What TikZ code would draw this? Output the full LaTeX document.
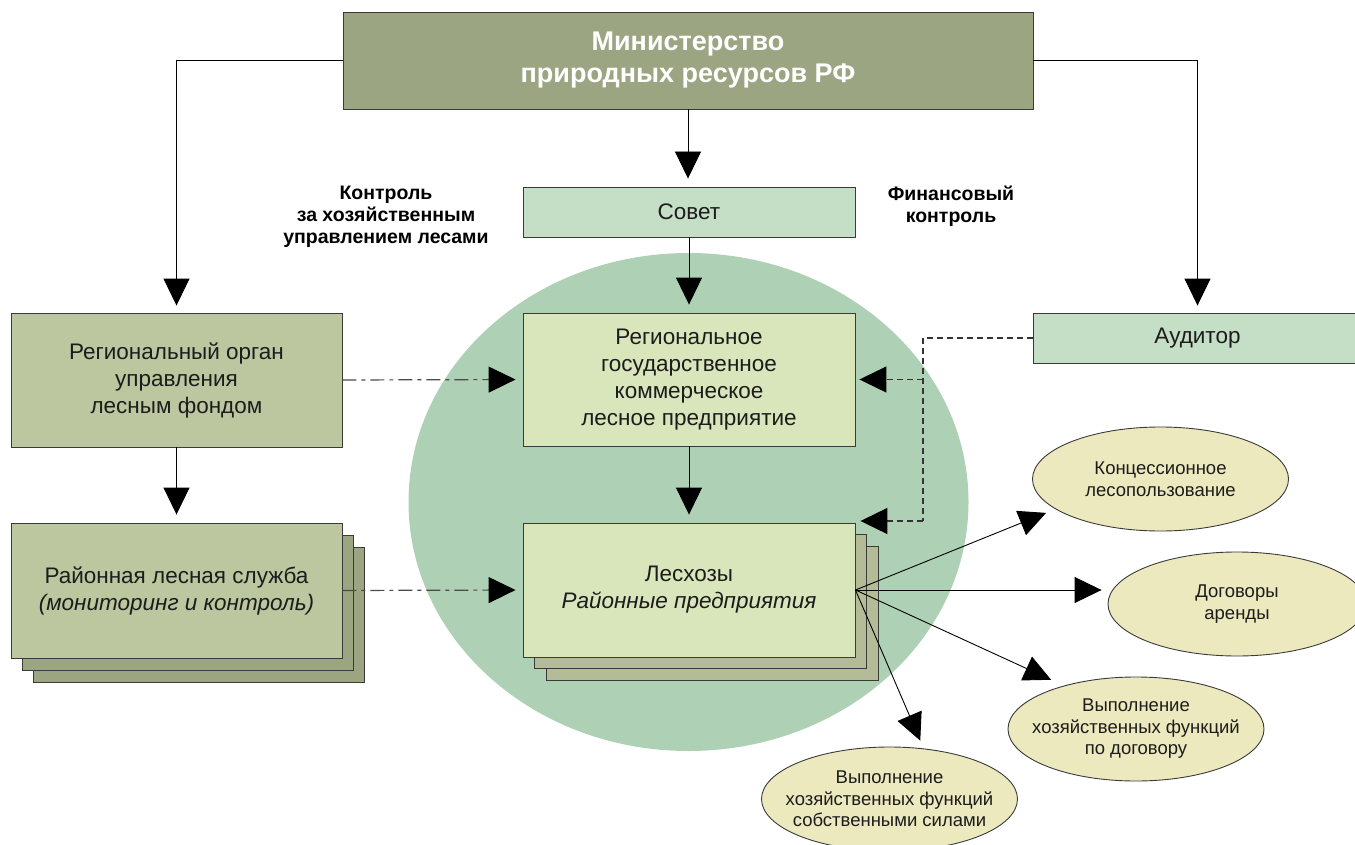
\documentclass[tikz,border=0pt]{standalone}
\usepackage{fontspec}
\setmainfont{Liberation Sans}
\usetikzlibrary{arrows.meta,shapes.geometric}
\definecolor{minfill}{HTML}{9BA582}
\definecolor{regorgfill}{HTML}{BCC7A0}
\definecolor{stackdark}{HTML}{9BA582}
\definecolor{leshback}{HTML}{B3BC97}
\definecolor{lightfill}{HTML}{D9E5BA}
\definecolor{sovfill}{HTML}{C5DEC6}
\definecolor{circfill}{HTML}{AED1B5}
\definecolor{ellfill}{HTML}{EDE9BF}
\definecolor{bordercol}{HTML}{3A3A3A}
\definecolor{txtcol}{HTML}{1C1C1C}
\definecolor{ddcol}{HTML}{4A4A4A}
\definecolor{dcol}{HTML}{333333}
\newcommand{\dgbody}{\fontsize{22.5}{27}\selectfont}
\newcommand{\dgell}{\fontsize{18.5}{21.5}\selectfont}
\newcommand{\dglbl}{\fontsize{19.5}{22}\selectfont\bfseries}
\newcommand{\dgtitle}{\fontsize{27}{32}\selectfont\bfseries}
\begin{document}
\begin{tikzpicture}[x=1pt,y=-1pt,
  boxbase/.style={draw=bordercol, line width=0.9pt, inner sep=0pt, align=center, text=txtcol, font=\dgbody},
  conn/.style={line width=0.9pt, draw=black, -{Triangle[length=27pt,width=26pt,color=black]}},
  dashdotconn/.style={conn, line width=1.2pt, draw=ddcol, dash pattern=on 14pt off 5pt on 4pt off 5pt},
  dashconn/.style={conn, line width=1.1pt, draw=dcol, dash pattern=on 6pt off 4pt},
  dashline/.style={line width=1.1pt, draw=dcol, dash pattern=on 6pt off 4pt},
  ell/.style={ellipse, draw=bordercol, line width=0.9pt, fill=ellfill, minimum width=256pt, minimum height=104pt, inner xsep=-30pt, inner ysep=0pt, align=center, font=\dgell, text=txtcol},
  lbl/.style={font=\dglbl, align=center, text=black, inner sep=0pt}
]
\useasboundingbox (0,0) rectangle (1355,845);
\clip (0,0) rectangle (1355,845);

% big green ellipse
\fill[circfill] (688.5,502) ellipse [x radius=280pt, y radius=249pt];

% top
\node[boxbase, fill=minfill, minimum width=690pt, minimum height=97pt, text=white, font=\dgtitle] (min) at (688,60.5) {Министерство\\природных ресурсов РФ};
\node[boxbase, fill=sovfill, minimum width=332pt, minimum height=50pt] (sov) at (689,212) {Совет};
\node[boxbase, fill=sovfill, minimum width=329pt, minimum height=50pt] (aud) at (1197.5,338) {Аудитор};

% centre boxes
\node[boxbase, fill=lightfill, minimum width=332pt, minimum height=133pt] (reg) at (689,379.5) {Региональное\\государственное\\коммерческое\\лесное предприятие};
\node[boxbase, fill=leshback, minimum width=332pt, minimum height=134pt] (lesh3) at (712,613) {};
\node[boxbase, fill=leshback, minimum width=332pt, minimum height=134pt] (lesh2) at (700.5,601.5) {};
\node[boxbase, fill=lightfill, minimum width=332pt, minimum height=134pt] (lesh) at (689,590) {Лесхозы\\\textit{Районные предприятия}};

% left boxes
\node[boxbase, fill=regorgfill, minimum width=331pt, minimum height=134pt] (rorg) at (176.5,380) {Региональный орган\\управления\\лесным фондом};
\node[boxbase, fill=stackdark, minimum width=331pt, minimum height=135pt] (rls3) at (198.5,614.5) {};
\node[boxbase, fill=stackdark, minimum width=331pt, minimum height=135pt] (rls2) at (187.5,602.5) {};
\node[boxbase, fill=regorgfill, minimum width=331pt, minimum height=135pt] (rls) at (176.5,590.5) {Районная лесная служба\\\textit{(мониторинг и контроль)}};

% labels
\node[lbl] (lblctrl) at (386,217) {Контроль\\за хозяйственным\\управлением лесами};
\node[lbl] (lblfin) at (951,206) {Финансовый\\контроль};

% ellipses
\node[ell] (konc) at (1160.5,479) {Концессионное\\лесопользование};
\node[ell, minimum width=258pt] (dog) at (1237,604) {Договоры\\аренды};
\node[ell] (podog) at (1136,729) {Выполнение\\хозяйственных функций\\по договору};
\node[ell] (sob) at (889.5,799) {Выполнение\\хозяйственных функций\\собственными силами};

% connectors
\draw[conn, shorten >=8pt] (min.south) -- (min.south |- sov.north);
\draw[conn, shorten >=7pt] (min.west) -| (rorg.north);
\draw[conn, shorten >=7pt] (min.east) -| (aud.north);
\draw[conn, shorten >=8pt] (sov.south) -- (reg.north);
\draw[conn, shorten >=8pt] (reg.south) -- (lesh.north);
\draw[conn, shorten >=8pt] (rorg.south) -- (rls.north);
\draw[dashdotconn, shorten >=7pt] (rorg.east) -- (reg.west);
\draw[dashdotconn, shorten >=7pt] (rls.east) -- (lesh.west);
\coordinate (dtop) at (923,338);
\coordinate (dbot) at (923,521);
\draw[dashline] (aud.west) -- (dtop) -- (dbot);
\draw[dashconn, shorten >=4pt] (dtop |- reg.east) -- (reg.east);
\draw[dashconn, shorten >=5pt] (dbot) -- (dbot -| lesh.east);
\draw[conn, shorten >=10pt] (lesh.east) -- (konc.196);
\draw[conn, shorten >=6pt] (lesh.east) -- (lesh.east -| dog.west);
\draw[conn, shorten >=14pt] (lesh.east) -- (podog.149);
\draw[conn, shorten >=8.5pt] (lesh.east) -- (sob.56);
\end{tikzpicture}
\end{document}
